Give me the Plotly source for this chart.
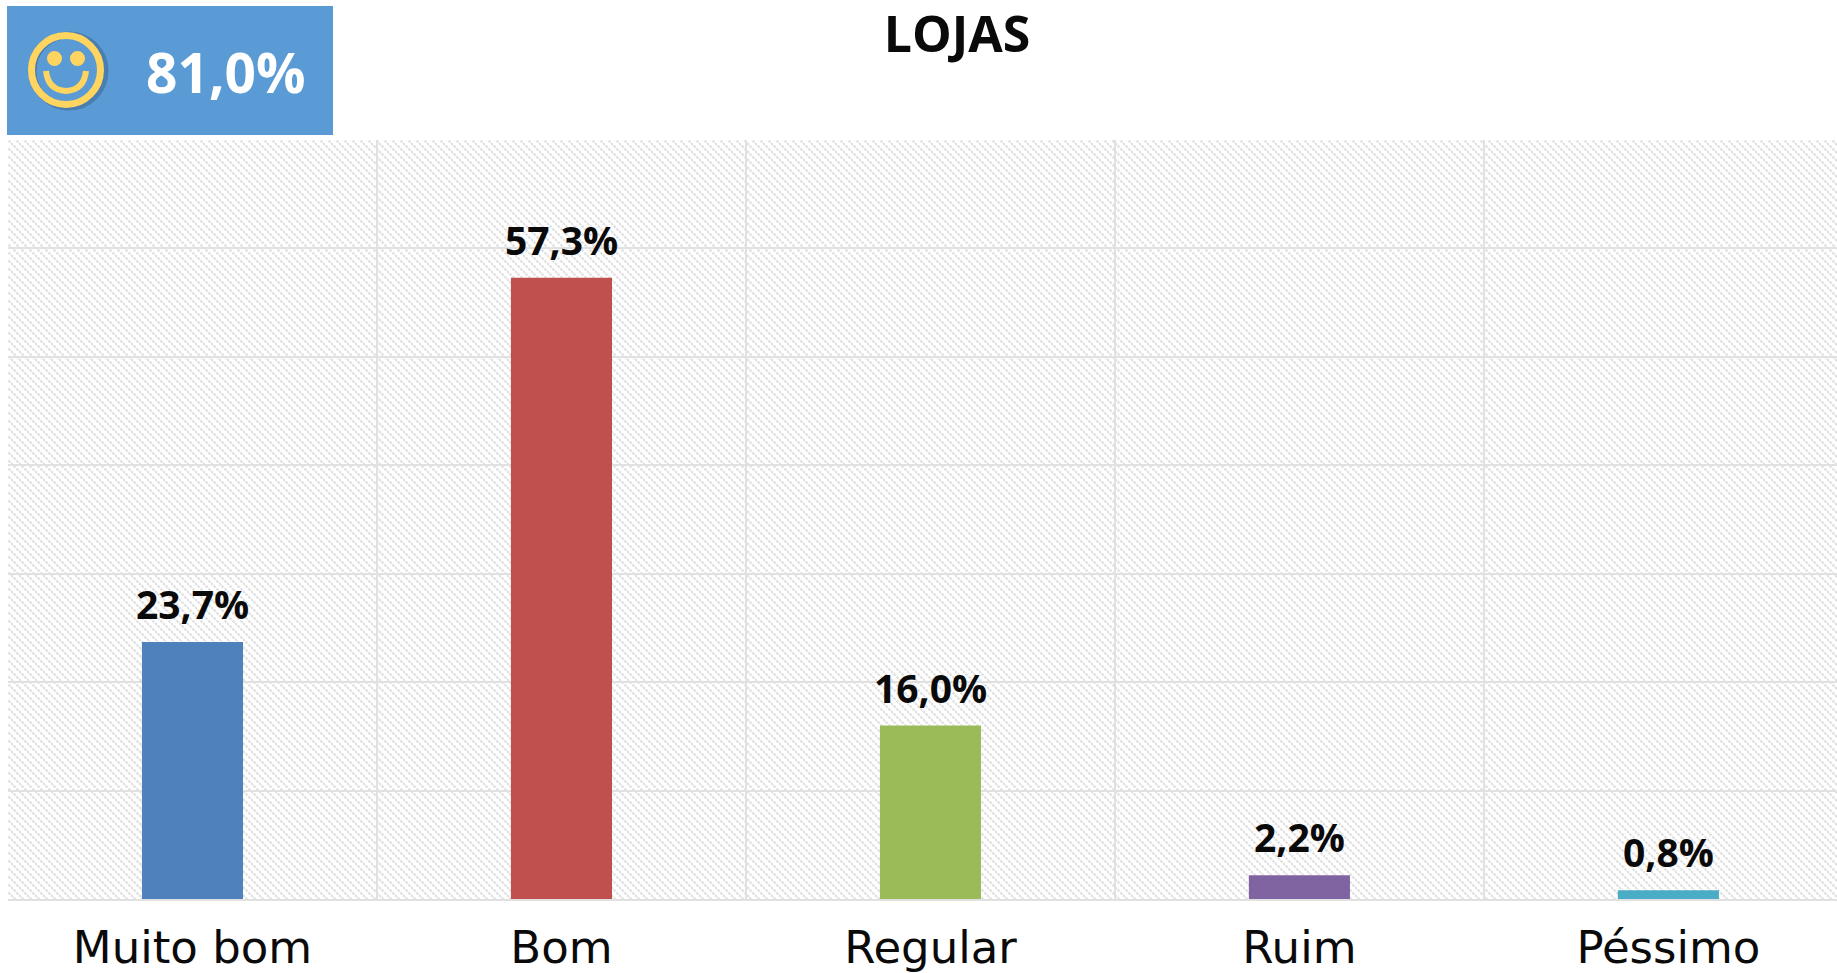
import base64
import plotly.graph_objects as go

categories = ["Muito bom", "Bom", "Regular", "Ruim", "Péssimo"]
values = [23.7, 57.3, 16.0, 2.2, 0.8]
colors = ["#4F81BD", "#C0504D", "#9BBB59", "#8064A2", "#4BACC6"]
labels = [f"{v:.1f}%".replace(".", ",") for v in values]
title_text = "LOJAS"
badge_text = "81,0%"

W, H = 1837, 973
L, T, B = 8, 140, 899


def px(x):
    return (x - L) / (W - L)


def py(y):
    return (B - y) / (B - T)


hatch = f"""<svg xmlns='http://www.w3.org/2000/svg' width='{W-L}' height='{B-T}' preserveAspectRatio='none'>
<defs><pattern id='h' width='8' height='8' patternUnits='userSpaceOnUse'>
<path d='M-2,-2 L10,10 M-2,6 L2,10 M6,-2 L10,2' stroke='#e0e0e0' stroke-width='2.2' stroke-dasharray='2.6 1'/>
</pattern></defs><rect width='100%' height='100%' fill='url(#h)'/></svg>"""
hatch_uri = "data:image/svg+xml;base64," + base64.b64encode(hatch.encode()).decode()

fig = go.Figure(
    go.Bar(
        x=categories,
        y=values,
        width=0.274,
        marker=dict(color=colors, line=dict(width=0)),
        hoverinfo="skip",
    )
)

YEL = "#FFD45F"
shapes = [
    dict(type="rect", xref="paper", yref="paper", x0=px(7), x1=px(333), y0=py(135), y1=py(6),
         fillcolor="#5B9BD5", line=dict(width=0), layer="above"),
    dict(type="circle", xref="paper", yref="paper", x0=px(33), x1=px(105), y0=py(107), y1=py(35),
         fillcolor="rgba(0,0,0,0)", line=dict(color="rgba(50,80,120,0.4)", width=7), layer="above"),
    dict(type="circle", xref="paper", yref="paper", x0=px(31.5), x1=px(100.5), y0=py(104.5), y1=py(35.5),
         fillcolor="rgba(0,0,0,0)", line=dict(color=YEL, width=7), layer="above"),
    dict(type="circle", xref="paper", yref="paper", x0=px(47), x1=px(62), y0=py(66), y1=py(51),
         fillcolor=YEL, line=dict(width=0), layer="above"),
    dict(type="circle", xref="paper", yref="paper", x0=px(70), x1=px(85), y0=py(66), y1=py(51),
         fillcolor=YEL, line=dict(width=0), layer="above"),
    dict(type="path", xref="paper", yref="paper",
         path=f"M {px(46)} {py(71)} Q {px(48)} {py(90)} {px(66)} {py(91)} Q {px(84)} {py(90)} {px(86)} {py(71)}",
         fillcolor="rgba(0,0,0,0)", line=dict(color=YEL, width=6), layer="above"),
]

annotations = [
    dict(text=badge_text, xref="paper", yref="paper", x=px(226), y=py(72), xanchor="center",
         yanchor="middle", showarrow=False,
         font=dict(family="Open Sans", size=55, color="white", weight=700))
]
for c, v, t in zip(categories, values, labels):
    annotations.append(
        dict(text=t, x=c, y=v, xref="x", yref="y", xanchor="center", yanchor="bottom",
             yshift=10, showarrow=False,
             font=dict(family="Open Sans", size=39, color="#0a0a0a", weight=700))
    )

fig.update_layout(
    width=W,
    height=H,
    autosize=False,
    margin=dict(l=L, r=0, t=T, b=H - B, pad=0, autoexpand=False),
    paper_bgcolor="white",
    plot_bgcolor="rgba(0,0,0,0)",
    showlegend=False,
    title=dict(
        text=title_text,
        x=957 / W,
        xanchor="center",
        xref="container",
        y=1 - 34 / H,
        yanchor="middle",
        yref="container",
        font=dict(family="Open Sans", size=50, color="#0a0a0a", weight=700),
    ),
    images=[
        dict(source=hatch_uri, xref="paper", yref="paper", x=0, y=1, sizex=1, sizey=1,
             sizing="stretch", xanchor="left", yanchor="top", layer="below")
    ],
    shapes=shapes,
    annotations=annotations,
    xaxis=dict(
        type="category",
        categoryorder="array",
        categoryarray=categories,
        range=[-0.5, 4.457],
        tickson="boundaries",
        showgrid=True,
        gridcolor="#e1e1e1",
        gridwidth=1.5,
        ticks="",
        ticklabelstandoff=8,
        automargin=False,
        showline=True,
        linecolor="#e1e1e1",
        linewidth=1.5,
        tickfont=dict(family="DejaVu Sans", size=45, color="#0a0a0a"),
        fixedrange=True,
    ),
    yaxis=dict(
        range=[0, 70],
        dtick=10,
        showticklabels=False,
        showgrid=True,
        gridcolor="#e1e1e1",
        gridwidth=1.5,
        zeroline=False,
        automargin=False,
        fixedrange=True,
    ),
)
fig.write_html(
    "out.html",
    config={"displayModeBar": False},
    post_script="document.body.style.margin='0';document.documentElement.style.overflow='hidden';",
)
